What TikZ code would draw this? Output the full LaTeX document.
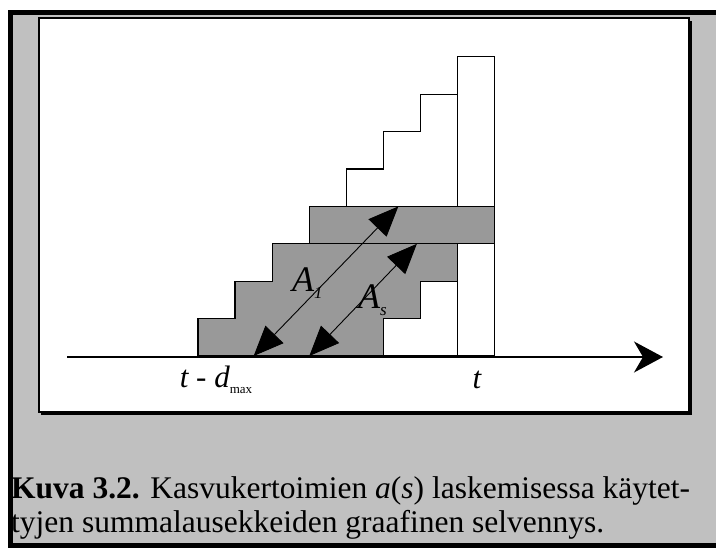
\documentclass[tikz,border=0pt]{standalone}
\usepackage{fontspec}
\setmainfont{Liberation Serif}
\usetikzlibrary{arrows.meta,positioning,calc}
\definecolor{paper}{HTML}{C0C0C0}
\definecolor{band}{HTML}{999999}
\definecolor{ink}{HTML}{000000}
\tikzset{stair/.style={draw=ink,line width=1.3pt,fill=white},
  shade/.style={draw=ink,line width=1.3pt,fill=band},
  dbl/.style={{Triangle[length=30pt,width=25pt]}-{Triangle[length=30pt,width=25pt]},line width=0.9pt,draw=ink},
  axis/.style={-{Stealth[length=29pt,width=31pt,inset=9pt]},line width=1.4pt,draw=ink},
  lab/.style={font=\fontsize{31}{31}\selectfont\itshape,text=ink,inner sep=0pt},
  arealab/.style={font=\fontsize{36}{36}\selectfont\itshape,text=ink,inner sep=0pt},
  captext/.style={anchor=base west,inner sep=0pt,font=\fontsize{31.5}{35}\selectfont,text=ink}}

\begin{document}
\begin{tikzpicture}[x=1pt,y=-1pt]
\clip (0,0) rectangle (716,549);
\fill[white] (0,0) rectangle (716,549);
% frame and panel
\fill[paper] (10,12) rectangle (720,546);
\draw[line width=5pt,draw=ink] (730,12.5) -- (10.5,12.5) -- (10.5,545.5) -- (730,545.5);
\fill[ink] (41,21) rectangle (692,415);
\draw[fill=white,line width=1.2pt] (39,18) rectangle (689,412);
% staircase (one unit = one step)
\begin{scope}[shift={(198,356)},x=37.1pt,y=37.4pt]
\draw[stair] (0,0) -- (0,1) -- (1,1) -- (1,2) -- (2,2) -- (2,3) -- (3,3) -- (3,4) -- (4,4) -- (4,5) -- (5,5) -- (5,6) -- (6,6) -- (6,7) -- (7,7) -- (7,0) -- cycle;
\draw[stair] (7,0) rectangle (8,8);
\draw[shade] (0,0) -- (0,1) -- (1,1) -- (1,2) -- (2,2) -- (2,3) -- (7,3) -- (7,2) -- (6,2) -- (6,1) -- (5,1) -- (5,0) -- cycle;
\draw[shade] (3,3) rectangle (8,4);
\coordinate (a1lo) at (1.5,0);
\coordinate (a1hi) at (5.4,4);
\coordinate (aslo) at (3,0);
\coordinate (ashi) at (5.9,3);
\node[arealab] (aone) at (2.95,1.95) {A\raisebox{-0.4ex}{\fontsize{17}{17}\selectfont 1}};
\node[arealab] (as) at (4.7,1.5) {A\raisebox{-0.4ex}{\fontsize{17}{17}\selectfont s}};
\end{scope}
\draw[dbl] (a1lo) -- (a1hi);
\draw[dbl] (aslo) -- (ashi);
% time axis
\coordinate (ax0) at (67,357);
\coordinate (ax1) at (663,357);
\draw[axis] (ax0) -- (ax1);
\node[lab] (tdmax) at (216,380) {t - d\raisebox{-0.45ex}{\fontsize{13}{13}\selectfont\upshape max}};
\node[lab] (tnow) at (477,380) {t};
% caption
\node[captext] (cap1) at (11,498) {\textbf{Kuva 3.2.} Kasvukertoimien \textit{a}(\textit{s}) laskemisessa käytet-};
\node[captext] (cap2) at (11,532) {tyjen summalausekkeiden graafinen selvennys.};
\end{tikzpicture}
\end{document}
